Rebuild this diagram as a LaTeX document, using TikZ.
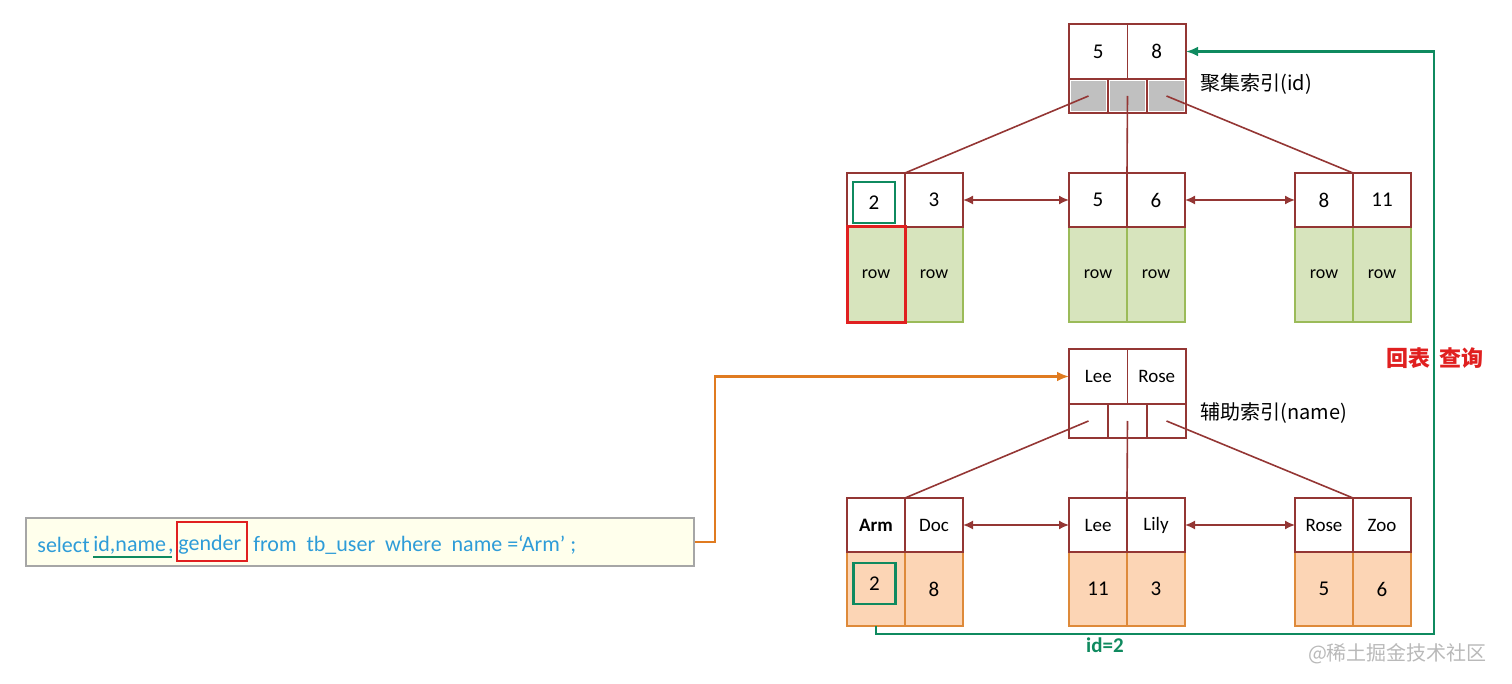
\documentclass[tikz,border=0pt]{standalone}
\usepackage{fontspec}
\setmainfont{Carlito}
\newfontfamily\cjk{Noto Sans CJK SC}
\usetikzlibrary{arrows.meta,positioning}
\definecolor{treered}{HTML}{943634}
\definecolor{ptrgray}{HTML}{C0C0C0}
\definecolor{rowfill}{HTML}{D7E4BD}
\definecolor{rowline}{HTML}{9BBB59}
\definecolor{valfill}{HTML}{FCD5B5}
\definecolor{valline}{HTML}{DE8A3A}
\definecolor{hitgreen}{HTML}{0F8A5F}
\definecolor{hitred}{HTML}{E02020}
\definecolor{sqlblue}{HTML}{2E9CD8}
\definecolor{sqlfill}{HTML}{FFFFEC}
\definecolor{goorange}{HTML}{E07B20}
\tikzset{
 cell/.style={inner sep=0pt,outer sep=0pt,line width=0.8pt,font=\fontsize{9}{10}\selectfont},
 keycell/.style={cell,draw=treered,fill=white,minimum width=29pt,minimum height=27pt,font=\fontsize{10.5}{12}\selectfont},
 namecell/.style={keycell,font=\fontsize{9.5}{11}\selectfont},
 rootkey/.style={keycell,minimum width=29.25pt,minimum height=27.5pt},
 rootname/.style={rootkey,font=\fontsize{9.5}{11}\selectfont},
 ptrcell/.style={cell,draw=treered,minimum width=19.5pt,minimum height=17pt},
 grayptr/.style={ptrcell,path picture={\fill[ptrgray]
   ([shift={(1.2pt,1.2pt)}]path picture bounding box.south west) rectangle
   ([shift={(-1.2pt,-1.2pt)}]path picture bounding box.north east);}},
 rowcell/.style={cell,draw=rowline,fill=rowfill,minimum width=29pt,minimum height=47.5pt},
 valcell/.style={cell,draw=valline,fill=valfill,minimum width=29pt,minimum height=37pt,font=\fontsize{10.5}{12}\selectfont},
 hitbox/.style={draw=hitgreen,line width=1.3pt,inner sep=0pt,minimum width=21pt,minimum height=20.5pt,font=\fontsize{10.5}{12}\selectfont},
 link/.style={draw=treered,line width=0.8pt},
 sibling/.style={treered,line width=0.8pt,{Latex[length=5pt,width=4.5pt]}-{Latex[length=5pt,width=4.5pt]}},
 idxlabel/.style={anchor=west,inner sep=0pt,font=\cjk\fontsize{10}{12}\selectfont},
 sqltext/.style={anchor=west,inner sep=0pt,text=sqlblue,font=\fontsize{11}{13}\selectfont}
}
\begin{document}
\begin{tikzpicture}[x=0.5pt,y=-0.5pt]
\useasboundingbox (0,0) rectangle (1512,684);
% clustered index
\node[rootkey] (croot5) at (1098.25,51.5) {5};
\node[rootkey] (croot8) at (1156.75,51.5) {8};
\node[grayptr] (cp1) at (1088.5,96) {};
\node[grayptr] (cp2) at (1127.5,96) {};
\node[grayptr] (cp3) at (1166.5,96) {};
\node[idxlabel] (clabel) at (1200,84) {聚集索引(id)};
\node[rowcell] (cr2) at (876,274.5) {row};
\node[rowcell] (cr3) at (934,274.5) {row};
\node[rowcell] (cr5) at (1098,274.5) {row};
\node[rowcell] (cr6) at (1156,274.5) {row};
\node[rowcell] (cr8) at (1324,274.5) {row};
\node[rowcell] (cr11) at (1382,274.5) {row};
\node[keycell] (ck2) at (876,200) {};
\node[keycell] (ck3) at (934,200) {3};
\node[keycell] (ck5) at (1098,200) {5};
\node[keycell] (ck6) at (1156,200) {6};
\node[keycell] (ck8) at (1324,200) {8};
\node[keycell] (ck11) at (1382,200) {11};
\node[hitbox] (chit) at (874,202.5) {2};
\node[cell,draw=hitred,line width=1.5pt,minimum width=29pt,minimum height=48pt] (crhit) at (876,275) {};
\draw[link] (cp1.center) -- (ck2.north east);
\draw[link] (cp2.center) -- (ck5.north east);
\draw[link] (cp3.center) -- (ck8.north east);
\draw[sibling] (ck3.east) -- (ck5.west);
\draw[sibling] (ck6.east) -- (ck8.west);
% secondary index
\node[rootname] (sroot1) at (1098.25,376.5) {Lee};
\node[rootname] (sroot2) at (1156.75,376.5) {Rose};
\node[ptrcell] (sp1) at (1088.5,421) {};
\node[ptrcell] (sp2) at (1127.5,421) {};
\node[ptrcell] (sp3) at (1166.5,421) {};
\node[idxlabel] (slabel) at (1200,413) {辅助索引(name)};
\node[valcell] (sv2) at (876,589) {};
\node[valcell] (sv8) at (934,589) {8};
\node[valcell] (sv11) at (1098,589) {11};
\node[valcell] (sv3) at (1156,589) {3};
\node[valcell] (sv5) at (1324,589) {5};
\node[valcell] (sv6) at (1382,589) {6};
\node[namecell] (skArm) at (876,525) {\textbf{Arm}};
\node[namecell] (skDoc) at (934,525) {Doc};
\node[namecell] (skLee) at (1098,525) {Lee};
\node[namecell] (skLily) at (1156,525) {Lily};
\node[namecell] (skRose) at (1324,525) {Rose};
\node[namecell] (skZoo) at (1382,525) {Zoo};
\node[hitbox] (shit) at (874.5,583.5) {2};
\draw[link] (sp1.center) -- (skArm.north east);
\draw[link] (sp2.center) -- (skLee.north east);
\draw[link] (sp3.center) -- (skRose.north east);
\draw[sibling] (skDoc.east) -- (skLee.west);
\draw[sibling] (skLily.east) -- (skRose.west);
% query
\node[draw=gray!70,fill=sqlfill,line width=0.6pt,minimum width=334pt,minimum height=24pt,inner sep=0pt] (sql) at (360,542) {};
\node[sqltext] (qselect) at (37,545) {select};
\node[sqltext] (qcols) at (93,545) {id,name\kern1pt,};
\node[draw=hitred,line width=1.3pt,minimum width=35pt,minimum height=19.5pt,inner sep=0pt] (qgender) at (212,541.5) {};
\node[sqltext] (qgen) at (178,545) {gender};
\node[sqltext] (qrest) at (253,545) {from\ \ tb\_user\ \ where\ \ name ={‘}Arm{’} ;};
\draw[hitgreen,line width=1.3pt] ([yshift=-1.2pt]qcols.south west) -- ([xshift=-1pt,yshift=-1.2pt]qcols.south east);
\coordinate (qbend) at (715,542);
\draw[goorange,line width=1.2pt,-{Latex[length=6pt,width=5pt]}] (sql.east) -- (qbend) |- (sroot1.west);
% back to table
\coordinate (bturn) at (1434,634);
\draw[hitgreen,line width=1.2pt,-{Latex[length=6pt,width=5pt]}] (sv2.south) |- (bturn) |- (croot8.east);
\node[text=hitgreen,font=\bfseries\fontsize{10.5}{12}\selectfont] (bid) at (1105,645) {id=2};
\node[text=hitred,font=\cjk\bfseries\fontsize{11}{13}\selectfont] (bback) at (1435,358) {回表\hspace{5pt}查询};
\node[text=gray!55,font=\cjk\fontsize{10}{12}\selectfont,anchor=east] (mark) at (1494,654) {@稀土掘金技术社区};
\end{tikzpicture}
\end{document}
